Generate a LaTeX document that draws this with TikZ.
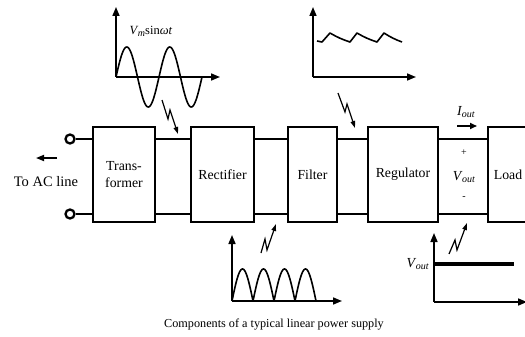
\documentclass[tikz,border=0pt]{standalone}
\usepackage{fontspec}
\setmainfont{Liberation Serif}
\usetikzlibrary{arrows.meta}
\newcommand{\subsc}[2]{\textit{#1}\kern-0.5pt\raisebox{-0.35ex}{\fontsize{10}{10}\selectfont\textit{#2}}}
\begin{document}
\begin{tikzpicture}[x=1pt,y=-1pt,
  blk/.style={draw,line width=2.8pt,minimum height=95pt,inner sep=0pt,align=center,font=\fontsize{13.8}{16.5}\selectfont},
  term/.style={draw,circle,line width=2.3pt,minimum size=9pt,inner sep=0pt},
  wire/.style={line width=2.3pt},
  axis/.style={line width=1.6pt,-{Triangle[length=9pt,width=7pt]}},
  curve/.style={line width=1.6pt,line join=round},
  bolt/.style={line width=1.2pt,line join=miter,-{Triangle[length=7pt,width=4.5pt]}},
  lbl/.style={inner sep=0pt,font=\fontsize{13.8}{16.5}\selectfont}]
\useasboundingbox (0,0) rectangle (525,337);
\clip (0,0) rectangle (525,337);

% terminals
\node[term] (t1) at (70,139) {};
\node[term] (t2) at (70,214) {};

% blocks
\node[blk,minimum width=62pt] (tr) at (124,174.5) {Trans-\\former};
\node[blk,minimum width=63pt] (rec) at (222.5,174.5) {Rectifier};
\node[blk,minimum width=49pt] (fil) at (312.5,174.5) {Filter};
\node[blk,minimum width=70pt] (reg) at (403,174.5) {Regulator};
\node[blk,minimum width=40pt] (load) at (508,174.5) {Load};

% wires top and bottom
\foreach \lv in {t1,t2}{
  \draw[wire] (\lv.east) -- (tr.west |- \lv.east);
  \draw[wire] (tr.east |- \lv.east) -- (rec.west |- \lv.east);
  \draw[wire] (rec.east |- \lv.east) -- (fil.west |- \lv.east);
  \draw[wire] (fil.east |- \lv.east) -- (reg.west |- \lv.east);
  \draw[wire] (reg.east |- \lv.east) -- (load.west |- \lv.east);
}

% To AC line
\coordinate (ac1) at (57,158);
\coordinate (ac2) at (36,158);
\draw[line width=1.6pt,-{Triangle[length=8pt,width=6pt]}] (ac1) -- (ac2);
\node[lbl,font=\fontsize{14.5}{17}\selectfont] (acl) at (46,182) {To AC line};

% output labels
\node[lbl] (plus) at (464,153) {\fontsize{10}{10}\selectfont +};
\node[lbl] (vo) at (464,177) {\subsc{V}{out}};
\node[lbl] (minus) at (464,198) {\fontsize{10}{10}\selectfont -};
\coordinate (io1) at (457,126);
\coordinate (io2) at (477,126);
\draw[line width=1.6pt,-{Triangle[length=7pt,width=6pt]}] (io1) -- (io2);
\node[lbl] (iol) at (466,112) {\subsc{I}{out}};

% sine graph
\coordinate (o1) at (116,77);
\draw[axis] (o1) -- (116,7);
\draw[axis] (o1) -- (220,77);
\draw[curve] plot[domain=0:86,samples=120] ({116+\x},{77-30*sin(\x/43*360)});
\node[lbl,font=\fontsize{12.5}{14}\selectfont] (vm) at (151,31) {\subsc{V}{m}sin\textit{ωt}};
\coordinate (b1a) at (162,100);
\coordinate (b1b) at (168,119);
\coordinate (b1c) at (170,110);
\coordinate (b1d) at (178,134);
\draw[bolt] (b1a) -- (b1b) -- (b1c) -- (b1d);

% filter graph
\coordinate (o2) at (313,77);
\draw[axis] (o2) -- (313,7);
\draw[axis] (o2) -- (416,77);
\draw[curve] (317,41) -- (322,42) -- (330,33) to[bend right=6] (350,42) -- (357,33) to[bend right=6] (377,42) -- (384,33) to[bend right=6] (402,42);
\coordinate (b2a) at (338,93);
\coordinate (b2b) at (345,112);
\coordinate (b2c) at (347,104);
\coordinate (b2d) at (355,128);
\draw[bolt] (b2a) -- (b2b) -- (b2c) -- (b2d);

% rectifier graph
\coordinate (o3) at (232,301);
\draw[axis] (o3) -- (232,235);
\draw[axis] (o3) -- (342,301);
\draw[curve] plot[domain=0:84,samples=200] ({232+\x},{301-32*abs(sin(\x/21*180))});
\coordinate (b3a) at (261,253);
\coordinate (b3b) at (265,239);
\coordinate (b3c) at (267,250);
\coordinate (b3d) at (276,224);
\draw[bolt] (b3a) -- (b3b) -- (b3c) -- (b3d);

% output graph
\coordinate (o4) at (434,302);
\draw[axis] (o4) -- (434,233);
\draw[axis] (o4) -- (527,302);
\draw[line width=3.2pt] (434,264) -- (514,264);
\node[lbl,anchor=east] (vol) at (429,264) {\subsc{V}{out}};
\coordinate (b4a) at (449,254);
\coordinate (b4b) at (455,240);
\coordinate (b4c) at (457,250);
\coordinate (b4d) at (467,223);
\draw[bolt] (b4a) -- (b4b) -- (b4c) -- (b4d);

% caption
\node[inner sep=0pt,font=\fontsize{12.2}{14}\selectfont] (cap) at (274,325) {Components of a typical linear power supply};
\end{tikzpicture}
\end{document}
